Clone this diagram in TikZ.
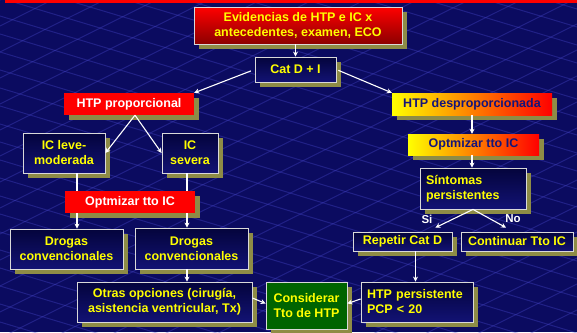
\documentclass[tikz,border=0pt]{standalone}
\usepackage{fontspec}
\setmainfont{Liberation Sans}
\usetikzlibrary{arrows.meta,shadows}

\definecolor{fondo}{HTML}{0B0B60}
\definecolor{rejilla}{HTML}{4A4AD0}
\definecolor{azulsup}{HTML}{04043C}
\definecolor{azulinf}{HTML}{121274}
\definecolor{sombra}{HTML}{8E8C46}
\definecolor{amarillo}{HTML}{FFFF00}
\definecolor{azultxt}{HTML}{14147A}
\definecolor{verde}{HTML}{006400}

\begin{document}
\begin{tikzpicture}[x=1pt, y=-1pt, font=\bfseries\fontsize{12.5}{15}\selectfont,
	caja/.style={inner sep=2pt, align=center,
		drop shadow={shadow xshift=5pt, shadow yshift=-5pt, fill=sombra, opacity=1}},
	azul/.style={caja, draw=white!85!black, line width=0.8pt, top color=azulsup, bottom color=azulinf, text=amarillo},
	rojo/.style={caja, fill=red, text=white},
	degr/.style={caja, left color=yellow, right color=red, middle color=orange, text=azultxt},
	flecha/.style={draw=white, line width=1.1pt, -{Stealth[length=5pt, width=5pt]}},
	linea/.style={draw=white, line width=1.1pt},
	etiq/.style={text=white, font=\bfseries\fontsize{11.5}{13}\selectfont}]
	% fondo
	\fill[fondo] (0,0) rectangle (577,332);
	\begin{scope}
		\clip (0,0) rectangle (577,332);
		\foreach \k in {-200,-182,...,340}
			\draw[rejilla, opacity=0.35, line width=1pt] (0,\k) -- (577,\k+173);
		\foreach \k in {0,26,...,620}
			\draw[rejilla, opacity=0.35, line width=1pt] (0,\k) -- (577,\k-288);
	\end{scope}
	\fill[red] (5,0) rectangle (577,3);
	
	% cajas
	\node[caja, draw=white!85!black, line width=0.8pt, top color=red, bottom color=red!55!black, text=amarillo,
		minimum width=208pt, minimum height=37pt] (ev) at (298,25.5) {Evidencias de HTP e IC x\\antecedentes, examen, ECO};
	\node[azul, minimum width=81pt, minimum height=25pt] (cat) at (295.5,69.5) {Cat D + I};
	
	\node[rojo, minimum width=130pt, minimum height=22pt] (prop) at (129,104) {HTP proporcional};
	\node[degr, minimum width=160pt, minimum height=22pt] (desp) at (472,104) {HTP desproporcionada};
	
	\node[azul, minimum width=82pt, minimum height=40pt] (leve) at (64,153) {IC leve-\\moderada};
	\node[azul, minimum width=56pt, minimum height=40pt] (sev) at (190,153) {IC\\severa};
	\node[rojo, minimum width=130pt, minimum height=22pt] (opt1) at (130,202) {Optmizar tto IC};
	\node[azul, minimum width=113pt, minimum height=40pt] (drog1) at (66.5,249) {Drogas\\convencionales};
	\node[azul, minimum width=113pt, minimum height=41pt] (drog2) at (191.5,248.5) {Drogas\\convencionales};
	\node[azul, minimum width=175pt, minimum height=40pt] (otras) at (164.5,302) {Otras opciones (cirugía,\\asistencia ventricular, Tx)};
	\node[caja, draw=white!85!black, line width=0.8pt, fill=verde, text=amarillo,
		minimum width=81pt, minimum height=47pt] (cons) at (306.5,305.5) {Considerar\\Tto de HTP};
	
	\node[degr, minimum width=131pt, minimum height=21pt] (opt2) at (473.5,144.5) {Optmizar tto IC};
	\node[azul, minimum width=106pt, minimum height=41pt, align=left, text width=94pt] (sint) at (473,188.5) {Síntomas\\persistentes};
	\node[azul, minimum width=99pt, minimum height=19pt, inner sep=1pt] (rep) at (402.5,241.5) {Repetir Cat D};
	\node[azul, minimum width=112pt, minimum height=19pt, inner sep=1pt] (cont) at (517,241.5) {Continuar Tto IC};
	\node[azul, minimum width=112pt, minimum height=40pt, align=left, text width=100pt] (htpp) at (417,302) {HTP persistente\\PCP < 20};
	
	\node[etiq] (si) at (427,219) {Si};
	\node[etiq] (no) at (513,219) {No};
	
	% conectores
	\coordinate (l1) at ([xshift=13pt]leve.south);
	\coordinate (l2) at ([xshift=-3pt]sev.south);
	\coordinate (l3) at ([xshift=13pt]rep.south);
	
	\draw[flecha] (cat.north |- ev.south) to (cat.north);
	\draw[flecha, shorten <=4pt] (cat.west) to (prop.north east);
	\draw[flecha, shorten <=2pt] (cat.east) to (desp.north west);
	
	\draw[flecha] ([xshift=6pt]prop.south) to (leve.east);
	\draw[flecha] ([xshift=6pt]prop.south) to (sev.west);
	\draw[linea] (l1) to (l1 |- opt1.north);
	\draw[linea] (l2) to (l2 |- opt1.north);
	\draw[flecha] (l1 |- opt1.south) to (l1 |- drog1.north);
	\draw[flecha] (l2 |- opt1.south) to (l2 |- drog2.north);
	\draw[flecha] (l2 |- drog2.south) to (l2 |- otras.north);
	\draw[flecha] ([yshift=4pt]otras.east) to ([yshift=2pt]cons.west);
	
	\draw[flecha] (desp.south) to (desp.south |- opt2.north);
	\draw[flecha] (desp.south |- opt2.south) to (desp.south |- sint.north);
	\draw[flecha] (sint.south) to ([xshift=-17pt, yshift=4pt]rep.north east);
	\draw[flecha] (sint.south) to ([xshift=-11pt, yshift=4pt]cont.north);
	\draw[flecha] (l3) to (l3 |- htpp.north);
	\draw[flecha] ([yshift=3pt]htpp.west) to ([yshift=2pt]cons.east);
\end{tikzpicture}
\end{document}
